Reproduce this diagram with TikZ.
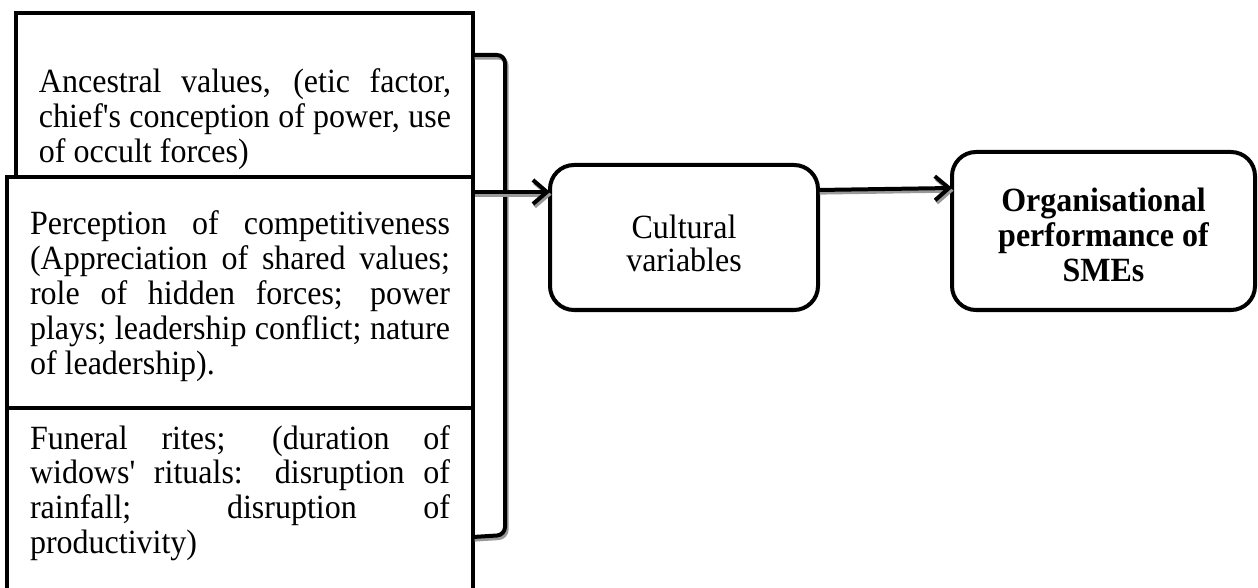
\documentclass[tikz,border=0pt]{standalone}
\usepackage{fontspec}
\usepackage{graphicx}
\setmainfont{Liberation Serif}[Ligatures={TeXOff,CommonOff}]
\usetikzlibrary{arrows.meta,calc}
\tolerance=10000
\hbadness=10000
\hyphenpenalty=10000
\lineskiplimit=-100pt
\newcommand{\vstretch}[1]{\scalebox{1}[1.06]{#1}}
\begin{document}
\begin{tikzpicture}[x=0.5pt,y=-0.5pt,
  box/.style={draw, line width=2pt, inner sep=0pt, outer sep=0pt, fill=white},
  txt/.style={anchor=base west, inner sep=0pt, outer sep=0pt, align=justify, yscale=1.06,
    font=\fontsize{16}{16.5}\selectfont},
  rbox/.style={draw, line width=2pt, rounded corners=12pt, align=center, inner sep=0pt, outer sep=0pt, fill=white},
  conn/.style={line width=2pt},
  arr/.style={conn, -{Straight Barb[length=7pt,width=12pt,line width=2pt]}},
  shd/.style={draw=black!40, transform canvas={shift={(0.8pt,-1.3pt)}}}
]
\useasboundingbox (0,0) rectangle (1258,588);
\fill[white] (0,0) rectangle (1258,588);

% left boxes
\node[box, minimum width=228.5pt, minimum height=82pt] (b1) at (244.5,95) {};
\node[box, minimum width=233pt, minimum height=115.5pt] (b2) at (240,292.5) {};
\node[box, minimum width=233pt, minimum height=106pt] (b3) at (240,514) {};

\node[txt, text width=206pt] (t1) at ($(b1.north west)+(23,80)$)
  {Ancestral values, (etic factor,\linebreak chief's conception of power, use\linebreak of occult forces)};
\node[txt, text width=210pt] (t2) at ($(b2.north west)+(23,58)$)
  {Perception of competitiveness\linebreak (Appreciation of shared values;\linebreak role of hidden forces; power\linebreak plays; leadership conflict; nature\linebreak of leadership).};
\node[txt, text width=210pt] (t3) at ($(b3.north west)+(23,41)$)
  {Funeral rites; (duration of\linebreak widows' rituals: disruption of\linebreak rainfall; disruption of\linebreak productivity)};

% right boxes
\node[rbox, minimum width=134pt, minimum height=72.5pt] (cv) at (684,237.5)
  {\raisebox{-3pt}[\height][\depth]{\vstretch{\parbox{130pt}{\centering\fontsize{16}{15.6}\selectfont Cultural\\variables}}}};
\node[rbox, minimum width=151.5pt, minimum height=79pt] (op) at (1103.5,231)
  {\raisebox{-2pt}[\height][\depth]{\vstretch{\parbox{148pt}{\centering\bfseries\fontsize{16}{16.5}\selectfont Organisational\\performance of\\SMEs}}}};

% bracket
\coordinate (bt) at ($(b1.north east)+(0,42)$);
\coordinate (bb) at ($(b3.north east)+(0,129)$);
\draw[conn, shd, rounded corners=4pt] (bt) -- ++(32,0) -- ++(0,480) -- (bb);
\draw[conn, rounded corners=4pt] (bt) -- ++(32,0) -- ++(0,480) -- (bb);

% arrows
\coordinate (a1) at ($(b2.north east)+(0,15)$);
\coordinate (a2) at ($(cv.north east)+(0,25)$);
\coordinate (a2e) at ($(op.north west)+(0,36)$);
\draw[arr, shd] (a1) -- (a1 -| cv.west);
\draw[arr] (a1) -- (a1 -| cv.west);
\draw[arr, shd] (a2) -- (a2e);
\draw[arr] (a2) -- (a2e);
\end{tikzpicture}
\end{document}
